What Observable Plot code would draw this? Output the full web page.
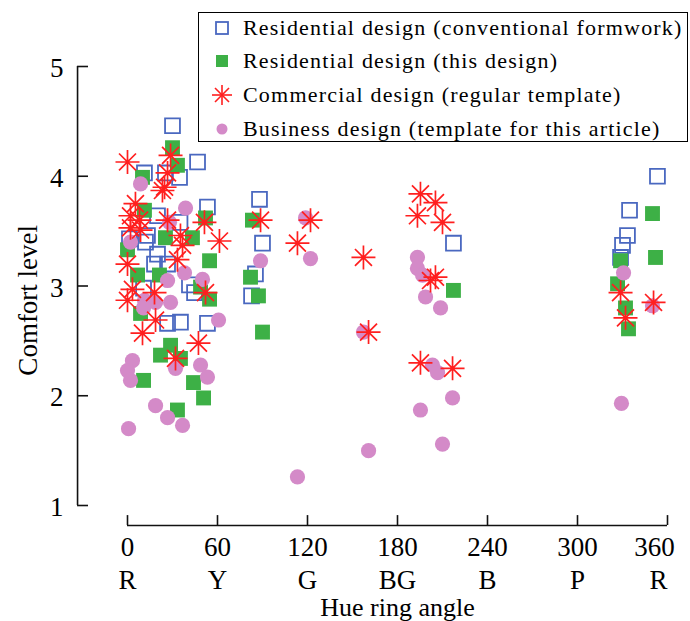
<!DOCTYPE html>
<html><head><meta charset="utf-8">
<script src="https://cdn.jsdelivr.net/npm/d3@7"></script>
<script src="https://cdn.jsdelivr.net/npm/@observablehq/plot@0.6"></script>
<style>
body{margin:0;background:#fff;}
#wrap{position:relative;width:690px;height:621px;overflow:hidden;font-family:"Liberation Serif","Times New Roman",serif;}
#legend{position:absolute;left:198px;top:12px;width:490px;height:130px;border:1.5px solid #000;background:#fff;box-sizing:border-box;}
.row{position:absolute;left:0;height:34px;display:flex;align-items:center;font-size:22px;letter-spacing:1.2px;white-space:nowrap;color:#000;}
.row svg{margin-left:13px;margin-right:11px;flex:none;}
</style></head>
<body><div id="wrap"></div>
<script>
// ---- data ----
const xTicks = [0, 60, 120, 180, 240, 300, 360];
const hueLabels = ["R", "Y", "G", "BG", "B", "P", "R"];
const yTicks = [1, 2, 3, 4, 5];
const seriesNames = [
  "Residential design (conventional formwork)",
  "Residential design (this design)",
  "Commercial design (regular template)",
  "Business design (template for this article)"
];

const convHue = [30, 46.7, 11.3, 25.3, 34.7, 53.3, 35, 20, 1.3, 13.3, 12, 20, 18, 26.7, 41.3, 44.7, 10.7, 26.7, 35.3, 53.3, 88, 90, 85.3, 82.7, 217.3, 353.3, 334.7, 333.3, 330, 328.7];
const convComfort = [4.46, 4.13, 4.03, 4.03, 3.99, 3.72, 3.58, 3.64, 3.43, 3.46, 3.40, 3.29, 3.20, 3.20, 3.01, 2.94, 2.98, 2.66, 2.67, 2.66, 3.79, 3.39, 3.11, 2.91, 3.39, 4.00, 3.69, 3.46, 3.37, 3.26];

const thisHue = [30, 33.3, 10, 11.3, 52, 25.3, 43.3, 0, 54.7, 21.3, 6.7, 54.7, 48.7, 8.7, 28.7, 35.3, 22, 10.7, 44, 50.7, 33.3, 83.3, 82, 87.3, 90, 217.3, 350, 352, 328.7, 326.7, 332, 334];
const thisComfort = [4.26, 4.10, 3.99, 3.69, 3.62, 3.44, 3.44, 3.33, 3.23, 3.10, 3.10, 2.88, 2.99, 2.75, 2.46, 2.34, 2.37, 2.14, 2.12, 1.98, 1.87, 3.60, 3.08, 2.91, 2.58, 2.96, 3.66, 3.26, 3.23, 3.02, 2.80, 2.61];

const commHue = [0, 28.7, 26.7, 24.7, 23.3, 5.3, 2, 8, 26.7, 51.3, 2, 8.7, 35.3, 61.3, 36.7, 33.3, 0, 3.3, 18, 52, 0, 10, 18.7, 47.3, 32, 88.7, 122, 113.3, 157.3, 160.7, 195.3, 205.3, 193.3, 210, 205.3, 202, 195.3, 216.7, 328.7, 332, 350.7];
const commComfort = [4.13, 4.19, 4.03, 3.90, 3.87, 3.75, 3.64, 3.60, 3.60, 3.58, 3.53, 3.51, 3.46, 3.41, 3.37, 3.24, 3.20, 2.97, 2.94, 2.94, 2.87, 2.57, 2.69, 2.48, 2.34, 3.60, 3.60, 3.39, 3.26, 2.58, 3.84, 3.76, 3.64, 3.58, 3.08, 3.05, 2.30, 2.25, 2.94, 2.71, 2.85];

const bizHue = [8.7, 38.7, 28, 2, 38, 26.7, 50, 11.3, 18.7, 28.7, 10.7, 60.7, 3.3, 0, 2, 32, 48.7, 53.3, 18.7, 26.7, 36.7, 0.7, 118.7, 122, 88.7, 157.3, 160.7, 113.3, 193.3, 193.3, 196.7, 198.7, 208.7, 203.3, 206.7, 216.7, 195.3, 210, 330.7, 350, 329.3];
const bizComfort = [3.93, 3.71, 3.58, 3.40, 3.12, 3.05, 3.06, 2.87, 2.85, 2.85, 2.80, 2.69, 2.32, 2.23, 2.14, 2.25, 2.28, 2.17, 1.91, 1.80, 1.73, 1.70, 3.62, 3.25, 3.23, 2.58, 1.50, 1.26, 3.26, 3.16, 3.10, 2.90, 2.80, 2.28, 2.21, 1.98, 1.87, 1.56, 3.12, 2.82, 1.93];

// ---- styles ----
const BLUE = "#4a68c0", GREEN = "#3db046", RED = "#ff1f1f", PINK = "#d48ac8";
const FONT = "'Liberation Serif', 'Times New Roman', serif";
const AXIS_Y = 0.818;   // x-axis baseline sits just below y = 1 (offset axis)
const YAXIS_X = -33.3;  // y-axis line sits left of hue 0 (offset axis)

const zip = (h, c) => h.map((v, i) => ({hue: v, comfort: c[i]}));
const conv = zip(convHue, convComfort);
const mine = zip(thisHue, thisComfort);
const comm = zip(commHue, commComfort);
const biz = zip(bizHue, bizComfort);

const asterisk8 = {
  draw(ctx, size) {
    const r = Math.sqrt(size / Math.PI), d = r * Math.SQRT1_2;
    ctx.moveTo(-r, 0); ctx.lineTo(r, 0);
    ctx.moveTo(0, -r); ctx.lineTo(0, r);
    ctx.moveTo(-d, -d); ctx.lineTo(d, d);
    ctx.moveTo(-d, d); ctx.lineTo(d, -d);
  }
};

const lastTick = xTicks.length - 1;
const innerTicks = xTicks.slice(0, lastTick);

const chart = Plot.plot({
  width: 690, height: 621,
  marginTop: 0, marginBottom: 0, marginLeft: 0, marginRight: 0,
  x: {domain: [0, 360], range: [127, 667], axis: null},
  y: {domain: [1, 5], range: [505, 66], axis: null},
  style: {fontFamily: FONT, background: "white", color: "black", overflow: "visible"},
  marks: [
    // y axis
    Plot.ruleX([YAXIS_X], {y1: 1, y2: 5, stroke: "#111", strokeWidth: 1.6}),
    Plot.ruleY(yTicks, {x1: YAXIS_X, x2: YAXIS_X + 7.3, stroke: "#111", strokeWidth: 1.6}),
    Plot.text(yTicks, {x: YAXIS_X, y: d => d, text: d => String(d), dx: -14, dy: 2, textAnchor: "end", lineAnchor: "middle", fontSize: 27, fill: "#000"}),
    Plot.text(["Comfort level"], {x: -66, y: 2.87, text: d => d, rotate: -90, fontSize: 27, fill: "#000", lineAnchor: "middle"}),
    // x axis
    Plot.ruleY([AXIS_Y], {x1: 0, x2: 360, stroke: "#111", strokeWidth: 1.6}),
    Plot.ruleX(xTicks, {y1: AXIS_Y, y2: AXIS_Y + 0.09, stroke: "#111", strokeWidth: 1.6}),
    Plot.text(innerTicks, {x: d => d, y: AXIS_Y, text: d => String(d), dy: 22, lineAnchor: "middle", fontSize: 27, fill: "#000"}),
    Plot.text(innerTicks, {x: d => d, y: AXIS_Y, text: (d, i) => hueLabels[i], dy: 55, lineAnchor: "middle", fontSize: 27, fill: "#000"}),
    Plot.text([xTicks[lastTick]], {x: d => d, y: AXIS_Y, text: d => String(d), dx: -13, dy: 22, lineAnchor: "middle", fontSize: 27, fill: "#000"}),
    Plot.text([xTicks[lastTick]], {x: d => d, y: AXIS_Y, text: () => hueLabels[lastTick], dx: -9, dy: 55, lineAnchor: "middle", fontSize: 27, fill: "#000"}),
    Plot.text(["Hue ring angle"], {x: 180, y: AXIS_Y, text: d => d, dy: 82, lineAnchor: "middle", fontSize: 26, fill: "#000"}),
    // data
    Plot.dot(conv, {x: "hue", y: "comfort", symbol: "square", r: 8.4, stroke: BLUE, strokeWidth: 1.8, fill: "none"}),
    Plot.dot(mine, {x: "hue", y: "comfort", symbol: "square", r: 8.4, fill: GREEN, stroke: "none"}),
    Plot.dot(biz, {x: "hue", y: "comfort", symbol: "circle", r: 7.6, fill: PINK, stroke: "none"}),
    Plot.dot(comm, {x: "hue", y: "comfort", symbol: asterisk8, r: 12, stroke: RED, strokeWidth: 1.7, fill: "none"})
  ]
});
const wrap = document.getElementById("wrap");
wrap.appendChild(chart);

// legend (top-right, overlapping the plot area)
const legend = document.createElement("div");
legend.id = "legend";
const legendSyms = [
  `<rect x="4" y="4" width="12" height="12" fill="none" stroke="${BLUE}" stroke-width="1.8"/>`,
  `<rect x="4" y="4" width="12" height="12" fill="${GREEN}"/>`,
  `<g stroke="${RED}" stroke-width="1.6"><line x1="0" y1="10" x2="20" y2="10"/><line x1="10" y1="0" x2="10" y2="20"/><line x1="3" y1="3" x2="17" y2="17"/><line x1="3" y1="17" x2="17" y2="3"/></g>`,
  `<circle cx="10" cy="10" r="5.5" fill="${PINK}"/>`
];
const rowCenters = [15, 48, 82, 116];
seriesNames.forEach((name, i) => {
  const row = document.createElement("div");
  row.className = "row";
  row.style.top = (rowCenters[i] - 17) + "px";
  row.innerHTML = `<svg width="20" height="20" viewBox="0 0 20 20">${legendSyms[i]}</svg><span>${name}</span>`;
  legend.appendChild(row);
});
wrap.appendChild(legend);
</script>
</body></html>
